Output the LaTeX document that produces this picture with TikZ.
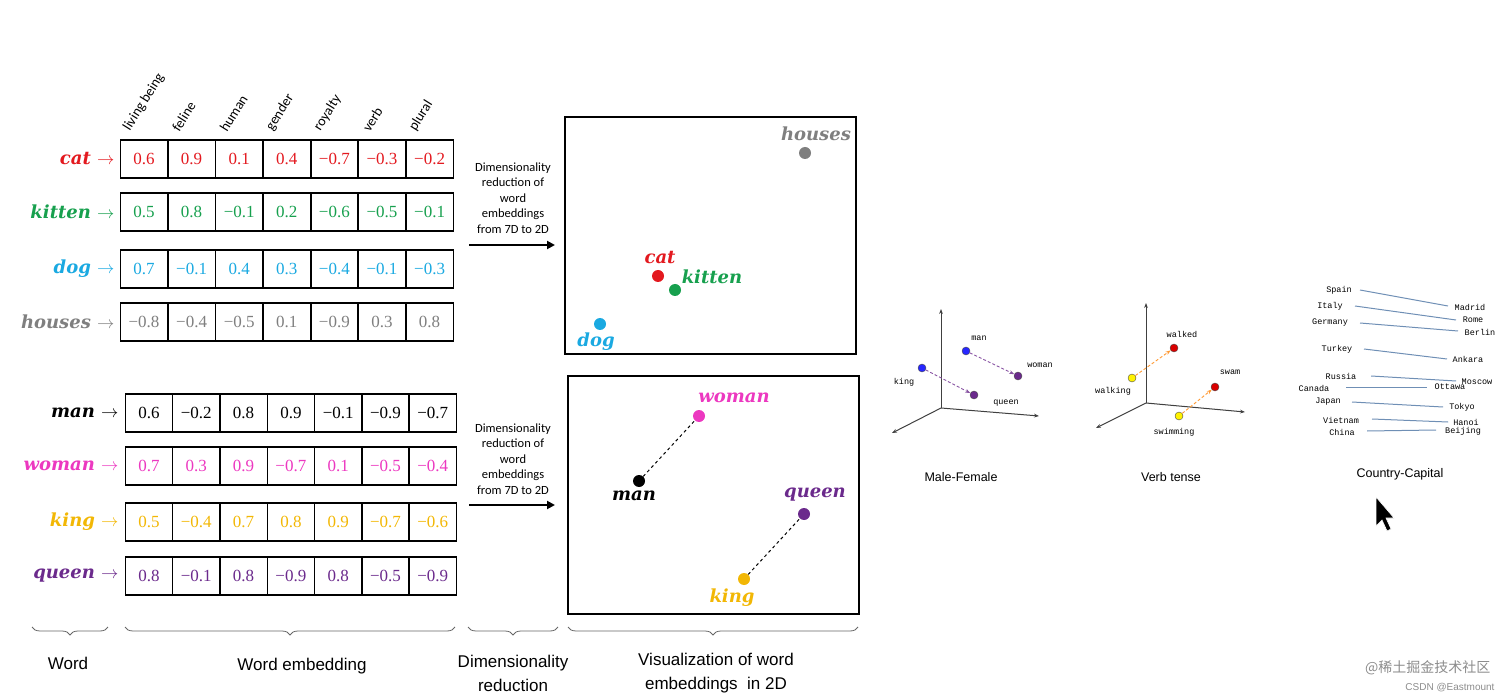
\documentclass[tikz,border=0pt]{standalone}
\usepackage{fontspec}
\setmainfont{Liberation Serif}
\newfontfamily\sans{Carlito}
\newfontfamily\arl{Liberation Sans}
\newfontfamily\mono{Liberation Mono}
\newfontfamily\wfont{DejaVu Serif}
\newfontfamily\cjk{Noto Sans CJK SC}
\usetikzlibrary{decorations.pathreplacing,arrows.meta}
\definecolor{cR}{HTML}{E3191F}
\definecolor{cG}{HTML}{17A04E}
\definecolor{cB}{HTML}{1AA9E1}
\definecolor{cH}{HTML}{7F7F7F}
\definecolor{cM}{HTML}{EC38C0}
\definecolor{cY}{HTML}{F2B705}
\definecolor{cP}{HTML}{6B2A8C}
\definecolor{axl}{HTML}{6F8FB5}
\begin{document}
\begin{tikzpicture}[x=1pt,y=-1pt,
 cell/.style={draw,line width=1.2pt,minimum width=47pt,minimum height=38pt,inner sep=0,font=\fontsize{17}{17}\selectfont},
 word/.style={anchor=east,font=\wfont\fontsize{18}{18}\selectfont\bfseries\itshape},
 hdr/.style={anchor=south west,rotate=58,font=\sans\fontsize{14}{14}\selectfont,inner sep=0},
 dot/.style={circle,inner sep=0,minimum size=12pt},
 lbl/.style={font=\wfont\fontsize{18}{18}\selectfont\bfseries\itshape},
 note/.style={align=center,font=\sans\fontsize{12.5}{15.5}\selectfont},
 captxt/.style={align=center,font=\arl\fontsize{17}{24}\selectfont},
 brc/.style={decorate,decoration={brace,mirror,amplitude=8pt},line width=0.8pt,draw=black!60},
 sd/.style={circle,draw=black!70,inner sep=0,minimum size=8pt},
 ml/.style={font=\mono\fontsize{8.5}{9}\selectfont,inner sep=1pt},
 ax/.style={line width=1pt,draw=black!75,-{Stealth[length=5pt]}},
 ttl/.style={font=\arl\fontsize{12.5}{12.5}\selectfont}]
\useasboundingbox (0,0) rectangle (1512,700);
% headers
\foreach \t [count=\i] in {living being,feline,human,gender,royalty,verb,plural}
  \node[hdr] (h\i) at (120+47.6*\i-47.6+12,133) {\t};
% top table
\foreach \w/\c/\y/\vals [count=\r] in {cat/cR/159/{0.6,0.9,0.1,0.4,−0.7,−0.3,−0.2},
  kitten/cG/212/{0.5,0.8,−0.1,0.2,−0.6,−0.5,−0.1},
  dog/cB/269/{0.7,−0.1,0.4,0.3,−0.4,−0.1,−0.3},
  houses/cH/322/{−0.8,−0.4,−0.5,0.1,−0.9,0.3,0.8}}{
  \node[word,text=\c] (w\r) at (118,\y) {\w\ \normalfont$\rightarrow$};
  \foreach \v [count=\k] in \vals
    \node[cell,text=\c] (t\r-\k) at (144+47.6*\k-47.6,\y) {\v};
}
% bottom table
\foreach \w/\c/\y/\vals [count=\r] in {man/black/413/{0.6,−0.2,0.8,0.9,−0.1,−0.9,−0.7},
  woman/cM/466/{0.7,0.3,0.9,−0.7,0.1,−0.5,−0.4},
  king/cY/522/{0.5,−0.4,0.7,0.8,0.9,−0.7,−0.6},
  queen/cP/576/{0.8,−0.1,0.8,−0.9,0.8,−0.5,−0.9}}{
  \node[word,text=\c] (b\r) at (122,\y) {\w\ \normalfont$\rightarrow$};
  \foreach \v [count=\k] in \vals
    \node[cell,text=\c] (u\r-\k) at (149+47.3*\k-47.3,\y) {\v};
}
% reduction notes and arrows
\node[note] (n1) at (513,198) {Dimensionality\\reduction of\\word\\embeddings\\from 7D to 2D};
\coordinate (a1s) at (469,245); \coordinate (a1e) at (555,245);
\draw[line width=2pt,-{Triangle[length=8pt,width=8pt]}] (a1s) -- (a1e);
\node[note] (n2) at (513,459) {Dimensionality\\reduction of\\word\\embeddings\\from 7D to 2D};
\coordinate (a2s) at (469,505); \coordinate (a2e) at (555,505);
\draw[line width=2pt,-{Triangle[length=8pt,width=8pt]}] (a2s) -- (a2e);
% plot boxes
\draw[line width=1.2pt] (565,117) rectangle (856,354);
\draw[line width=1.2pt] (568,376) rectangle (859,614);
\node[dot,fill=cH] (pH) at (805,153) {};
\node[lbl,text=cH] (lH) at (816,134) {houses};
\node[dot,fill=cR] (pC) at (658,276) {};
\node[lbl,text=cR] (lC) at (660,258) {cat};
\node[dot,fill=cG] (pK) at (675,290) {};
\node[lbl,text=cG] (lK) at (712,277) {kitten};
\node[dot,fill=cB] (pD) at (600,324) {};
\node[lbl,text=cB] (lD) at (596,342) {dog};
\node[dot,fill=cM] (pW) at (699,416) {};
\node[lbl,text=cM] (lW) at (734,398) {woman};
\node[dot,fill=black] (pM) at (639,481) {};
\node[lbl] (lM) at (634,496) {man};
\node[dot,fill=cP] (pQ) at (804,514) {};
\node[lbl,text=cP] (lQ) at (815,495) {queen};
\node[dot,fill=cY] (pKi) at (744,579) {};
\node[lbl,text=cY] (lKi) at (732,598) {king};
\draw[dashed,line width=1pt] (pM) -- (pW);
\draw[dashed,line width=1pt] (pKi) -- (pQ);
% braces
\coordinate (br1a) at (32,627); \coordinate (br1b) at (108,627);
\coordinate (br2a) at (125,627); \coordinate (br2b) at (455,627);
\coordinate (br3a) at (468,627); \coordinate (br3b) at (558,627);
\coordinate (br4a) at (568,627); \coordinate (br4b) at (858,627);
\draw[brc] (br1a) -- (br1b);
\draw[brc] (br2a) -- (br2b);
\draw[brc] (br3a) -- (br3b);
\draw[brc] (br4a) -- (br4b);
\node[captxt] (c1) at (68,663) {Word};
\node[captxt] (c2) at (302,666) {Word embedding};
\node[captxt] (c3) at (513,673) {Dimensionality\\reduction};
\node[captxt] (c4) at (716,673) {Visualization of word\\embeddings\ \ in 2D};
% Male-Female
\coordinate (o1) at (941,408);
\coordinate (o1u) at (941,309); \coordinate (o1r) at (1039,416); \coordinate (o1l) at (892,433);
\draw[ax] (o1) -- (o1u); \draw[ax] (o1) -- (o1r); \draw[ax] (o1) -- (o1l);
\node[sd,fill=blue!85] (mman) at (966,351) {};
\node[sd,fill=blue!85] (mking) at (922,368) {};
\node[sd,fill=cP] (mwoman) at (1018,376) {};
\node[sd,fill=cP] (mqueen) at (974,395) {};
\draw[densely dashed,line width=0.9pt,draw=cP!80,-{Stealth[length=5pt]}] (mman) -- (mwoman);
\draw[densely dashed,line width=0.9pt,draw=cP!80,-{Stealth[length=5pt]}] (mking) -- (mqueen);
\node[ml] (lman) at (979,338) {man};
\node[ml] (lking) at (904,382) {king};
\node[ml] (lwoman) at (1040,365) {woman};
\node[ml] (lqueen) at (1006,403) {queen};
\node[ttl] (t1) at (961,477) {Male-Female};
% Verb tense
\coordinate (o2) at (1146,403);
\coordinate (o2u) at (1146,303); \coordinate (o2r) at (1245,412); \coordinate (o2l) at (1096,428);
\draw[ax] (o2) -- (o2u); \draw[ax] (o2) -- (o2r); \draw[ax] (o2) -- (o2l);
\node[sd,fill=yellow] (vwalking) at (1132,378) {};
\node[sd,fill=red!85!black] (vwalked) at (1174,348) {};
\node[sd,fill=yellow] (vswimming) at (1179,416) {};
\node[sd,fill=red!85!black] (vswam) at (1215,387) {};
\draw[densely dashed,line width=0.9pt,draw=orange!80,-{Stealth[length=5pt]}] (vwalking) -- (vwalked);
\draw[densely dashed,line width=0.9pt,draw=orange!80,-{Stealth[length=5pt]}] (vswimming) -- (vswam);
\node[ml] (lwalking) at (1113,391) {walking};
\node[ml] (lwalked) at (1182,334) {walked};
\node[ml] (lswam) at (1230,372) {swam};
\node[ml] (lswimming) at (1174,432) {swimming};
\node[ttl] (t2) at (1171,477) {Verb tense};
% Country-Capital
\foreach \a/\ax/\ay/\lx/\ly/\mx/\my/\b/\bx/\by [count=\i] in {
 Spain/1339/290/1360/290/1448/306/Madrid/1470/307,
 Italy/1330/306/1355/306/1456/320/Rome/1473/320,
 Germany/1330/323/1360/323/1458/331/Berlin/1480/332,
 Turkey/1337/349/1364/349/1447/359/Ankara/1468/359,
 Russia/1341/376/1371/376/1456/381/Moscow/1477/382,
 Canada/1314/388/1346/387/1427/387/Ottawa/1450/387,
 Japan/1328/402/1352/402/1443/407/Tokyo/1462/407,
 Vietnam/1341/420/1372/419/1448/422/Hanoi/1466/422,
 China/1342/432/1367/431/1436/430/Beijing/1463/431}{
 \node[ml] (cc\i) at (\ax,\ay) {\a};
 \node[ml] (cp\i) at (\bx,\by) {\b};
 \coordinate (cl\i) at (\lx,\ly); \coordinate (cm\i) at (\mx,\my);
 \draw[axl,line width=1pt] (cl\i) -- (cm\i);
}
\node[ttl] (t3) at (1400,474) {Country-Capital};
% cursor
\fill[black,draw=white,line width=0.6pt] (1376,497) -- (1376,526) -- (1382,520) -- (1387,531) -- (1391,529) -- (1386,518) -- (1394,518) -- cycle;
% watermark
\node[anchor=east,text=black!45,font=\cjk\fontsize{14}{14}\selectfont] (wm1) at (1494,668) {@稀土掘金技术社区};
\node[anchor=east,text=black!45,font=\arl\fontsize{10}{10}\selectfont] (wm2) at (1498,688) {CSDN @Eastmount};
\end{tikzpicture}
\end{document}
